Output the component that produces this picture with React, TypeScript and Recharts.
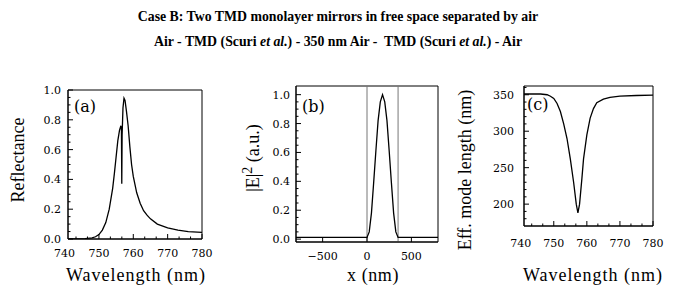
import React from "react";
import { LineChart, Line, XAxis, YAxis, ReferenceArea, ReferenceLine } from "recharts";

// (a) reflectance spectrum
const wavelengthA = [741, 744, 746, 748, 749, 750, 751, 752, 753, 754, 754.5, 755, 755.5, 756, 756.4, 756.55, 756.65, 756.75, 757.0, 757.3, 757.6, 758, 758.5, 759, 759.5, 760, 761, 762, 763, 764, 765, 767, 770, 773, 776, 780];
const reflectance = [0.0, 0.001, 0.003, 0.008, 0.015, 0.03, 0.06, 0.11, 0.2, 0.34, 0.44, 0.55, 0.66, 0.73, 0.76, 0.74, 0.37, 0.7, 0.88, 0.945, 0.93, 0.86, 0.76, 0.62, 0.5, 0.42, 0.31, 0.24, 0.19, 0.16, 0.135, 0.1, 0.075, 0.06, 0.05, 0.045];

// (b) field intensity profile
const positionB = [-800, -400, 0, 25, 50, 75, 100, 125, 150, 175, 200, 225, 250, 275, 300, 325, 350, 400, 800];
const intensityB = [0.012, 0.012, 0.012, 0.05, 0.18, 0.39, 0.61, 0.82, 0.95, 1.0, 0.95, 0.82, 0.61, 0.39, 0.18, 0.05, 0.012, 0.012, 0.012];
const mirrorPositions = [0, 350];

// (c) effective mode length
const wavelengthC = [741, 746, 748, 749, 750, 751, 752, 753, 754, 755, 756, 756.8, 757.3, 757.8, 758.5, 759, 760, 761, 762, 763, 765, 767, 770, 775, 780];
const modeLength = [351, 351, 350, 348, 345, 338, 327, 310, 290, 262, 230, 200, 188, 200, 235, 262, 295, 318, 331, 339, 344, 346.5, 348, 349, 349.5];

// ticks
const wlTicks = [740, 750, 760, 770, 780];
const wlMinor = [743.33, 746.67, 753.33, 756.67, 763.33, 766.67, 773.33, 776.67];
const unitTicks = [0, 0.2, 0.4, 0.6, 0.8, 1.0];
const unitMinor = [0.05, 0.1, 0.15, 0.25, 0.3, 0.35, 0.45, 0.5, 0.55, 0.65, 0.7, 0.75, 0.85, 0.9, 0.95];
const posTicks = [-500, 0, 500];
const lenTicks = [200, 250, 300, 350];
const lenMinor = [180, 190, 210, 220, 230, 240, 260, 270, 280, 290, 310, 320, 330, 340, 360];

const dataA = wavelengthA.map((w, i) => ({ w, r: reflectance[i] }));
const dataB = positionB.map((x, i) => ({ x, e: intensityB[i] }));
const dataC = wavelengthC.map((w, i) => ({ w, l: modeLength[i] }));

const tickFont = "DejaVu Serif";
const labelFont = "Liberation Serif";

function tickRenderer(side: "left" | "bottom", majors: number[], lo: number, hi: number, digits: number, gap: number) {
  return (props: any) => {
    const { x, y, payload } = props;
    const v = payload.value;
    const major = majors.includes(v);
    const inside = v >= lo && v <= hi;
    const len = major ? 5 : 2.5;
    if (side === "left") {
      return (
        <g>
          {inside && <line x1={x} x2={x + len} y1={y} y2={y} stroke="#000" strokeWidth={1} />}
          {major && (
            <text x={x - gap} y={y} dy="0.36em" textAnchor="end" fontFamily={tickFont} fontSize={11} fill="#000">
              {v.toFixed(digits)}
            </text>
          )}
        </g>
      );
    }
    const label = v < 0 ? "\u2212" + Math.abs(v).toFixed(digits) : v.toFixed(digits);
    return (
      <g>
        {inside && <line x1={x} x2={x} y1={y} y2={y - len} stroke="#000" strokeWidth={1} />}
        {major && (
          <text x={x} y={y + gap} dy="0.71em" textAnchor="middle" fontFamily={tickFont} fontSize={11} fill="#000">
            {label}
          </text>
        )}
      </g>
    );
  };
}

const abs = (left: number, top: number): React.CSSProperties => ({ position: "absolute", left, top });

function AxisTitle({ x, y, rotate, spacing, children }: { x: number; y: number; rotate?: boolean; spacing?: number; children: React.ReactNode }) {
  return (
    <div
      style={{
        position: "absolute",
        left: x,
        top: y,
        transform: `translate(-50%, -50%)${rotate ? " rotate(-90deg)" : ""}`,
        whiteSpace: "nowrap",
        fontFamily: labelFont,
        fontSize: 18,
        lineHeight: 1,
        letterSpacing: spacing ?? 0,
        color: "#000",
      }}
    >
      {children}
    </div>
  );
}

function PanelTag({ x, y, text }: { x: number; y: number; text: string }) {
  return (
    <div style={{ ...abs(x, y), fontFamily: tickFont, fontSize: 16, lineHeight: 1 }}>{text}</div>
  );
}

const titleStyle: React.CSSProperties = {
  position: "absolute",
  left: 0,
  width: 676,
  textAlign: "center",
  fontFamily: labelFont,
  fontWeight: "bold",
  fontSize: 13.8,
  lineHeight: 1,
  whiteSpace: "pre",
};

export default function App() {
  const aDom: [number, number] = [741, 780];
  const cDom: [number, number] = [741, 780];
  return (
    <div style={{ position: "absolute", left: 0, top: 0, width: 676, height: 285, background: "#fff", overflow: "hidden" }}>
      <div style={{ ...titleStyle, top: 10 }}>
        Case B: Two TMD monolayer mirrors in free space separated by air
      </div>
      <div style={{ ...titleStyle, top: 35 }}>
        {"Air - TMD (Scuri "}<i>et al.</i>{") - 350 nm Air -  TMD (Scuri "}<i>et al.</i>{") - Air"}
      </div>

      {/* (a) */}
      <div style={abs(0, 80)}>
        <LineChart width={230} height={205} data={dataA} margin={{ top: 10, right: 28, bottom: 0, left: 0 }}>
          <XAxis dataKey="w" type="number" domain={aDom} allowDataOverflow ticks={[...wlTicks, ...wlMinor]} interval={0}
            tickLine={false} tickSize={0} tickMargin={0} height={46} stroke="#000" tick={tickRenderer("bottom", wlTicks, aDom[0], aDom[1], 0, 10)} />
          <YAxis type="number" domain={[0, 1]} allowDataOverflow ticks={[...unitTicks, ...unitMinor]} interval={0}
            tickLine={false} tickSize={0} tickMargin={0} width={68} stroke="#000" tick={tickRenderer("left", unitTicks, 0, 1, 1, 7)} />
          <ReferenceArea x1={aDom[0]} x2={aDom[1]} y1={0} y2={1} fill="none" stroke="#000" strokeWidth={1} ifOverflow="visible" />
          <Line dataKey="r" stroke="#000" strokeWidth={1.3} dot={false} isAnimationActive={false} type="linear" />
        </LineChart>
      </div>

      {/* (b) */}
      <div style={abs(230, 80)}>
        <LineChart width={230} height={205} data={dataB} margin={{ top: 6, right: 22, bottom: 0, left: 0 }}>
          <XAxis dataKey="x" type="number" domain={[-800, 800]} allowDataOverflow ticks={posTicks} interval={0}
            tickLine={false} tickSize={0} tickMargin={0} height={43} stroke="#000" tick={tickRenderer("bottom", posTicks, -800, 800, 0, 10)} />
          <YAxis type="number" domain={[-0.02, 1.06]} allowDataOverflow ticks={[...unitTicks, ...unitMinor]} interval={0}
            tickLine={false} tickSize={0} tickMargin={0} width={66} stroke="#000" tick={tickRenderer("left", unitTicks, -0.02, 1.06, 1, 6)} />
          <ReferenceArea x1={-800} x2={800} y1={-0.02} y2={1.06} fill="none" stroke="#000" strokeWidth={1} ifOverflow="visible" />
          {mirrorPositions.map((m) => (
            <ReferenceLine key={m} x={m} stroke="#777" strokeWidth={1} />
          ))}
          <Line dataKey="e" stroke="#000" strokeWidth={1.3} dot={false} isAnimationActive={false} type="linear" />
        </LineChart>
      </div>

      {/* (c) */}
      <div style={abs(460, 80)}>
        <LineChart width={216} height={205} data={dataC} margin={{ top: 6, right: 23, bottom: 0, left: 0 }}>
          <XAxis dataKey="w" type="number" domain={cDom} allowDataOverflow ticks={[...wlTicks, ...wlMinor]} interval={0}
            tickLine={false} tickSize={0} tickMargin={0} height={59} stroke="#000" tick={tickRenderer("bottom", wlTicks, cDom[0], cDom[1], 0, 13)} />
          <YAxis type="number" domain={[170, 362]} allowDataOverflow ticks={[...lenTicks, ...lenMinor]} interval={0}
            tickLine={false} tickSize={0} tickMargin={0} width={64} stroke="#000" tick={tickRenderer("left", lenTicks, 170, 362, 0, 10)} />
          <ReferenceArea x1={cDom[0]} x2={cDom[1]} y1={170} y2={362} fill="none" stroke="#000" strokeWidth={1} ifOverflow="visible" />
          <Line dataKey="l" stroke="#000" strokeWidth={1.3} dot={false} isAnimationActive={false} type="linear" />
        </LineChart>
      </div>

      <PanelTag x={74} y={99} text="(a)" />
      <PanelTag x={302} y={99} text="(b)" />
      <PanelTag x={527} y={97} text="(c)" />

      <AxisTitle x={18} y={160} rotate>Reflectance</AxisTitle>
      <AxisTitle x={136} y={275} spacing={1}>Wavelength (nm)</AxisTitle>
      <AxisTitle x={251} y={158} rotate>
        |E|<sup style={{ fontSize: 14 }}>2</sup> (a.u.)
      </AxisTitle>
      <AxisTitle x={373} y={275} spacing={0.6}>x (nm)</AxisTitle>
      <AxisTitle x={465} y={170} rotate>Eff. mode length (nm)</AxisTitle>
      <AxisTitle x={593} y={275} spacing={1}>Wavelength (nm)</AxisTitle>
    </div>
  );
}
